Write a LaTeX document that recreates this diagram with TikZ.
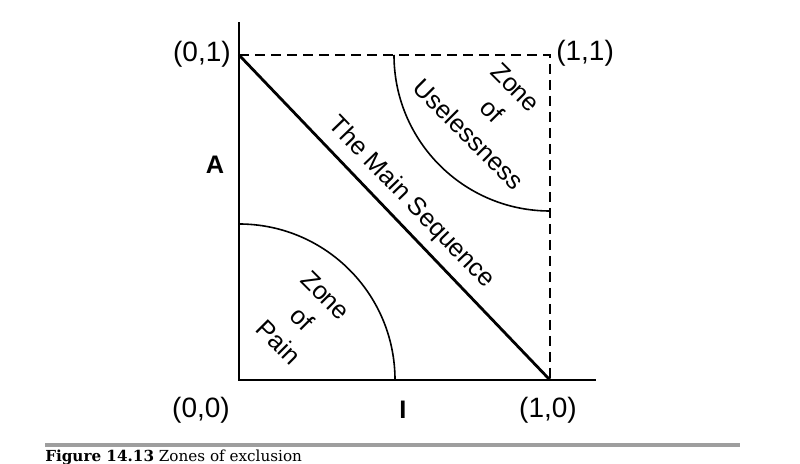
\documentclass[tikz,border=0pt]{standalone}
\usepackage{fontspec}
\setmainfont{Liberation Sans}
\newfontfamily\capfont{DejaVu Serif}
\begin{document}
\begin{tikzpicture}[x=0.75pt,y=0.75pt,
  axis/.style={line width=2.2pt, line cap=rect},
  diag/.style={line width=2.1pt},
  zonearc/.style={line width=1.2pt},
  dashline/.style={line width=1.4pt, dash pattern=on 7.5pt off 4.5pt},
  coordlbl/.style={font=\fontsize{21}{24}\selectfont, inner sep=0pt},
  axislbl/.style={font=\fontsize{19}{22}\selectfont\bfseries, inner sep=0pt},
  zonelbl/.style={font=\fontsize{19}{25}\selectfont, align=center, inner sep=0pt},
]
\useasboundingbox (0,0) rectangle (800,464);
% key points
\coordinate (O) at (239,84);
\coordinate (X1) at (550,84);
\coordinate (Y1) at (239,409);
\coordinate (C11) at (550,409);
\coordinate (Xend) at (595,84);
\coordinate (Yend) at (239,441);
% zones
\draw[zonearc] (O) ++(156,0) arc[start angle=0, end angle=90, radius=156];
\draw[zonearc] (C11) ++(-156,0) arc[start angle=180, end angle=270, radius=156];
% dashed square sides
\draw[dashline] (Y1) -- (C11) -- (X1);
% main sequence
\draw[diag] (Y1) -- (X1);
% axes
\draw[axis] (Yend) -- (O) -- (Xend);
% labels
\node[coordlbl, anchor=east] (l01) at (231,410) {(0,1)};
\node[coordlbl, anchor=west] (l11) at (556,411) {(1,1)};
\node[coordlbl] (l00) at (201,54) {(0,0)};
\node[coordlbl] (l10) at (548,54) {(1,0)};
\node[axislbl] (lI) at (403,54) {I};
\node[axislbl] (lA) at (215,299) {A};
\node[zonelbl, rotate=-46] (ms) at (411,261) {The Main Sequence};
\node[zonelbl, rotate=-45] (pain) at (302,145) {Zone\\of\\Pain};
\node[zonelbl, rotate=-45] (useless) at (492,353) {Zone\\of\\Uselessness};
% caption
\draw[line width=2.4pt, black!38] (45,19) -- (740,19);
\node[anchor=base west, inner sep=0pt, font=\capfont\fontsize{11.4}{13}\selectfont] (cap) at (45,2) {\textbf{Figure 14.13} Zones of exclusion};
\end{tikzpicture}
\end{document}
